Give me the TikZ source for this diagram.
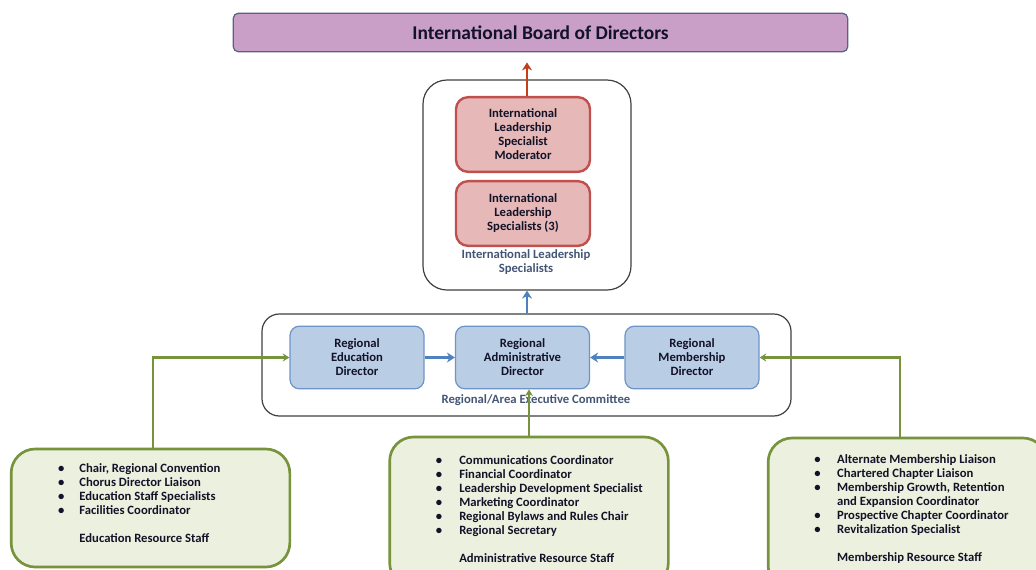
\documentclass[tikz,border=0pt]{standalone}
\usepackage{fontspec}
\setmainfont{Carlito}
\usetikzlibrary{positioning, arrows.meta, calc}

\definecolor{boardfill}{RGB}{201,158,199}
\definecolor{boardline}{RGB}{85,100,130}
\definecolor{ilsfill}{RGB}{230,184,183}
\definecolor{ilsline}{RGB}{192,80,77}
\definecolor{dirfill}{RGB}{185,205,229}
\definecolor{dirline}{RGB}{110,148,200}
\definecolor{bluearrow}{RGB}{79,129,189}
\definecolor{resfill}{RGB}{235,241,222}
\definecolor{resline}{RGB}{119,147,60}
\definecolor{redarrow}{RGB}{196,62,28}
\definecolor{grouptext}{RGB}{68,86,118}
\definecolor{bodytext}{RGB}{18,18,40}

\begin{document}
\begin{tikzpicture}
    [
        x=0.75pt, y=-0.75pt,
        every node/.style={font=\bfseries\fontsize{9.5}{10.5}\selectfont, text=bodytext},
        board/.style={draw=boardline, fill=boardfill, rounded corners=4pt, line width=0.9pt,
            minimum width=461pt, minimum height=29pt, font=\bfseries\fontsize{14.6}{16}\selectfont},
        group/.style={draw=black!75, fill=white, line width=0.9pt},
        ilsbox/.style={draw=ilsline, fill=ilsfill, rounded corners=9pt, line width=1.8pt,
            minimum width=100.5pt, align=center},
        dirbox/.style={draw=dirline, fill=dirfill, rounded corners=7pt, line width=0.9pt,
            minimum width=100.5pt, minimum height=47pt, align=center},
        resbox/.style={draw=resline, fill=resfill, rounded corners=18pt, line width=2pt,
            minimum width=209pt},
        caption/.style={text=grouptext, align=center},
        reslist/.style={anchor=north west, inner sep=0pt, align=left},
        blueline/.style={-{Stealth[length=6pt, width=7.5pt]}, draw=bluearrow, line width=1.8pt},
        redline/.style={-{Stealth[length=6pt, width=7.5pt]}, draw=redarrow, line width=1.8pt},
        greenline/.style={-{Stealth[length=5pt, width=6pt]}, draw=resline, line width=1.8pt}
    ]
        \clip (0,0) rectangle (1036,569);
        % =========================================================================
        % NODES
        % =========================================================================
        % --- Top ---
        \node [board] (board) at (540.5,32.5) {International Board of Directors};
        % --- International Leadership Specialists ---
        \node [group, rounded corners=18pt, minimum width=156pt, minimum height=157.5pt] (ils) at (527,185) {};
        \node [ilsbox, minimum height=56pt] (mod) at (523,134.5)
            {International\\Leadership\\Specialist\\Moderator};
        \node [ilsbox, minimum height=48.5pt] (spec) at (523,213.5)
            {International\\Leadership\\Specialists (3)};
        \node [caption] (ilslbl) at (526,262) {International Leadership\\Specialists};
        % --- Regional/Area Executive Committee ---
        \node [group, rounded corners=13pt, minimum width=396.75pt, minimum height=76.5pt] (rec) at (526.5,365) {};
        \node [dirbox] (adm) at (522.5,357.5) {Regional\\Administrative\\Director};
        \node [dirbox] (edu) at (357,357.5) {Regional\\Education\\Director};
        \node [dirbox] (memb) at (692,357.5) {Regional\\Membership\\Director};
        \node [caption] (reclbl) at (536,400) {Regional/Area Executive Committee};
        % --- Resource staff ---
        \node [resbox, minimum height=88.5pt] (edures) at (150.5,508) {};
        \node [resbox, minimum height=112.5pt] (admres) at (529,512) {};
        \node [resbox, minimum height=114pt] (memres) at (907.5,514) {};
        \node [reslist, below right=11pt and 36pt of edures.north west] (edulist)
            {\begin{tabular}{@{}p{16pt}@{}l@{}}
                \textbullet & Chair, Regional Convention\\
                \textbullet & Chorus Director Liaison\\
                \textbullet & Education Staff Specialists\\
                \textbullet & Facilities Coordinator\\
                & \\
                & Education Resource Staff
            \end{tabular}};
        \node [reslist, below right=14pt and 35.5pt of admres.north west] (admlist)
            {\begin{tabular}{@{}p{17.5pt}@{}l@{}}
                \textbullet & Communications Coordinator\\
                \textbullet & Financial Coordinator\\
                \textbullet & Leadership Development Specialist\\
                \textbullet & Marketing Coordinator\\
                \textbullet & Regional Bylaws and Rules Chair\\
                \textbullet & Regional Secretary\\
                & \\
                & Administrative Resource Staff
            \end{tabular}};
        \node [reslist, below right=12.5pt and 35.5pt of memres.north west] (memlist)
            {\begin{tabular}{@{}p{17pt}@{}l@{}}
                \textbullet & Alternate Membership Liaison\\
                \textbullet & Chartered Chapter Liaison\\
                \textbullet & Membership Growth, Retention\\
                & and Expansion Coordinator\\
                \textbullet & Prospective Chapter Coordinator\\
                \textbullet & Revitalization Specialist\\
                & \\
                & Membership Resource Staff
            \end{tabular}};

        % =========================================================================
        % PATHS
        % =========================================================================
        % --- UPWARD ---
        \draw [redline, shorten >=7.5pt] (mod.north -| ils.north) -- (board.south -| ils.north);
        \draw [blueline] (rec.north -| ils.south) -- (ils.south);
        % --- INTO ADMINISTRATIVE DIRECTOR ---
        \draw [blueline] (edu.east) -- (adm.west);
        \draw [blueline] (memb.west) -- (adm.east);
        % --- RESOURCE STAFF ---
        \draw [greenline] ([xshift=2pt]edures.north) |- (edu.west);
        \draw [greenline] (admres.north) -- (admres.north |- adm.south);
        \draw [greenline] ([xshift=-5.5pt]memres.north) |- (memb.east);

\end{tikzpicture}
\end{document}
